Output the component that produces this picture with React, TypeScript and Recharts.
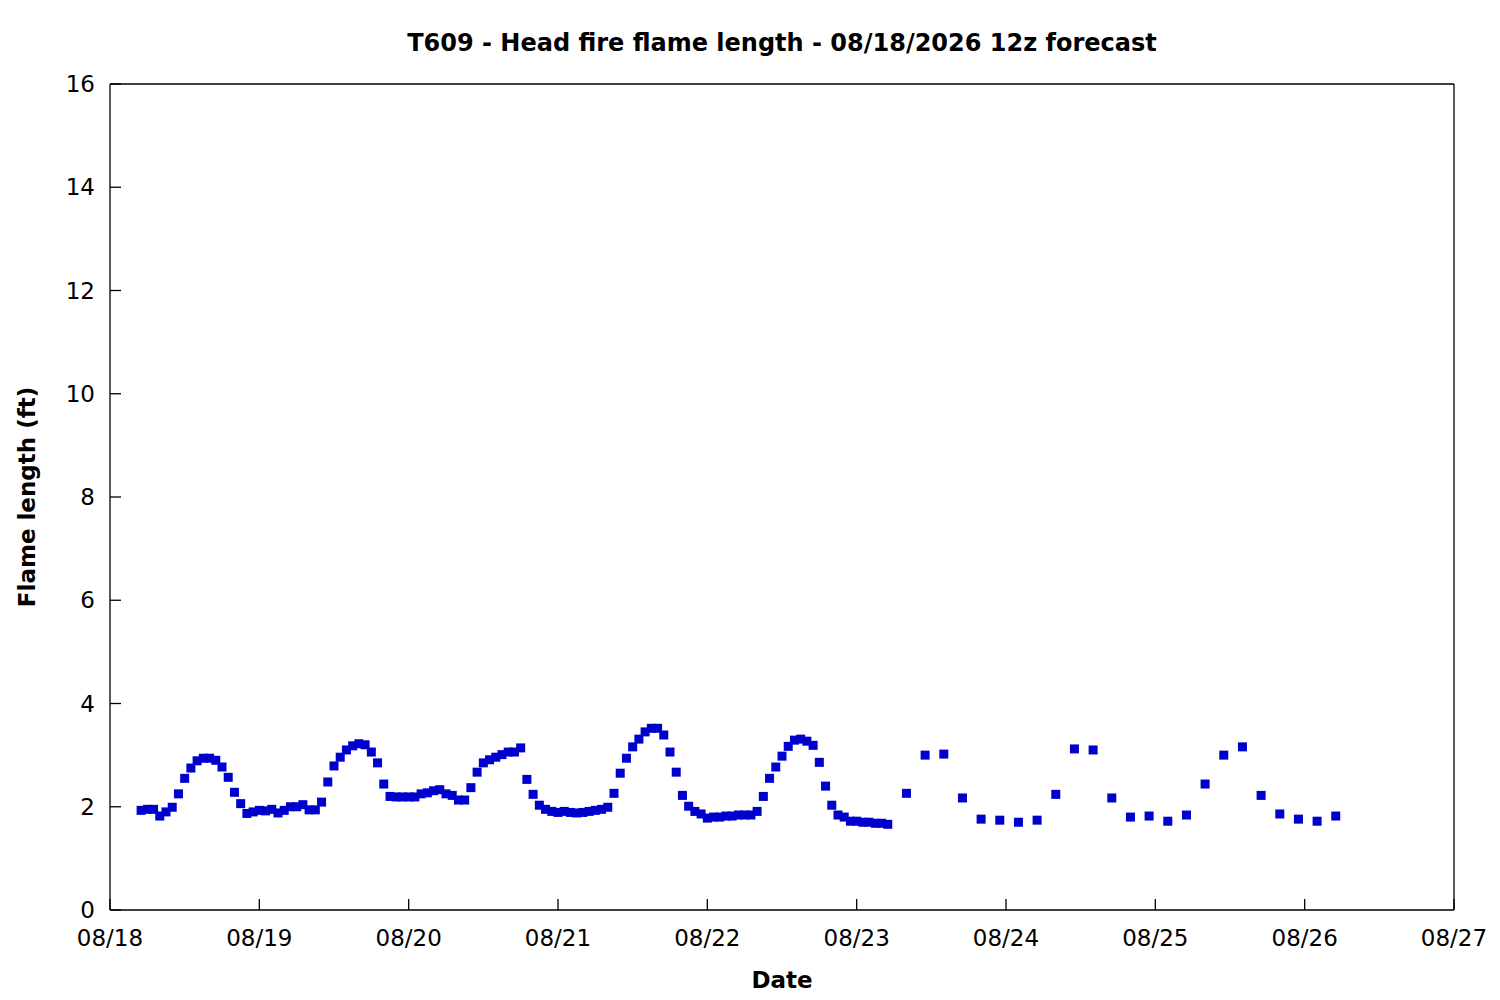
import { ScatterChart, Scatter, XAxis, YAxis, Label } from "recharts";

// hourly values from 08/18 05:00 to 08/23 05:00
const HOURLY_START = 5;
const hourlyFlame = [
  1.93, 1.95, 1.95, 1.82, 1.9, 1.99, 2.25, 2.55, 2.75, 2.89, 2.94, 2.94, 2.9, 2.77, 2.57, 2.28, 2.06, 1.87, 1.9,
  1.93, 1.92, 1.95, 1.88, 1.93, 2.0, 2.0, 2.04, 1.94, 1.94, 2.09, 2.48, 2.79, 2.96, 3.1, 3.18, 3.22, 3.2, 3.06,
  2.85, 2.44, 2.2, 2.19, 2.19, 2.19, 2.19, 2.25, 2.27, 2.31, 2.33, 2.25, 2.22, 2.13, 2.13, 2.37, 2.67, 2.85, 2.91,
  2.96, 3.01, 3.06, 3.06, 3.14, 2.53, 2.24, 2.03, 1.95, 1.91, 1.89, 1.91, 1.89, 1.88, 1.89, 1.91, 1.93, 1.95, 1.99,
  2.26, 2.65, 2.94, 3.16, 3.31, 3.45, 3.52, 3.52, 3.39, 3.06, 2.67, 2.22, 2.01, 1.91, 1.86, 1.78, 1.8, 1.8, 1.82,
  1.82, 1.84, 1.84, 1.84, 1.91, 2.2, 2.55, 2.77, 2.98, 3.17, 3.29, 3.31, 3.27, 3.19, 2.86, 2.4, 2.03, 1.84, 1.8,
  1.72, 1.72, 1.7, 1.7, 1.68, 1.68, 1.66,
];

// 3-hourly values from 08/23 08:00 on
const LATER_START = 128;
const LATER_STEP = 3;
const threeHourlyFlame = [
  2.26, 3.0, 3.02, 2.17, 1.76, 1.74, 1.7, 1.74, 2.24, 3.12, 3.1, 2.17, 1.8, 1.82, 1.72, 1.84, 2.44, 3.0, 3.16, 2.22,
  1.86, 1.76, 1.72, 1.82,
];

const dayTicks = [0, 24, 48, 72, 96, 120, 144, 168, 192, 216];
const dayLabels = ["08/18", "08/19", "08/20", "08/21", "08/22", "08/23", "08/24", "08/25", "08/26", "08/27"];
const flameTicks = [0, 2, 4, 6, 8, 10, 12, 14, 16];

const points = [
  ...hourlyFlame.map((v, i) => ({ hour: HOURLY_START + i, flame: v })),
  ...threeHourlyFlame.map((v, i) => ({ hour: LATER_START + i * LATER_STEP, flame: v })),
];

const font = "'DejaVu Sans', sans-serif";
const line = { stroke: "#000", strokeWidth: 1.3 };
const tickText = { fill: "#000", fontSize: 23, fontFamily: font };

const Square = (props: any) => {
  const { cx, cy } = props;
  if (cx == null || cy == null) return null;
  return <rect x={cx - 4.5} y={cy - 4.5} width={9} height={9} fill="#0000CC" />;
};

export default function App() {
  return (
    <div style={{ position: "absolute", left: 0, top: 0, width: 1500, height: 1000, background: "#fff" }}>
      <div
        style={{
          position: "absolute",
          left: 110,
          width: 1344,
          top: 31,
          textAlign: "center",
          fontFamily: font,
          fontWeight: "bold",
          fontSize: 24,
          lineHeight: 1,
          color: "#000",
        }}
      >
        T609 - Head fire flame length - 08/18/2026 12z forecast
      </div>
      <ScatterChart width={1500} height={1000} margin={{ top: 54, right: 0, bottom: 0, left: 0 }}>
        <XAxis
          xAxisId="bottom"
          type="number"
          dataKey="hour"
          domain={[0, 216]}
          ticks={dayTicks}
          interval={0}
          allowDataOverflow
          tickFormatter={(h: number) => dayLabels[h / 24]}
          height={90}
          tickSize={-11}
          tickMargin={31}
          axisLine={line}
          tickLine={line}
          tick={tickText}
        >
          <Label
            value="Date"
            position="insideBottom"
            offset={12}
            style={{ fill: "#000", fontSize: 23, fontWeight: "bold", fontFamily: font }}
          />
        </XAxis>
        <XAxis
          xAxisId="top"
          orientation="top"
          type="number"
          dataKey="hour"
          domain={[0, 216]}
          ticks={dayTicks}
          interval={0}
          allowDataOverflow
          height={30}
          tickSize={-11}
          axisLine={line}
          tickLine={line}
          tick={false}
        />
        <YAxis
          yAxisId="left"
          type="number"
          dataKey="flame"
          domain={[0, 16]}
          ticks={flameTicks}
          interval={0}
          allowDataOverflow
          width={110}
          tickSize={-11}
          tickMargin={26}
          axisLine={line}
          tickLine={line}
          tick={tickText}
        >
          <Label
            value="Flame length (ft)"
            position="insideLeft"
            angle={-90}
            offset={27}
            style={{ fill: "#000", fontSize: 23, fontWeight: "bold", fontFamily: font, textAnchor: "middle" }}
          />
        </YAxis>
        <YAxis
          yAxisId="right"
          orientation="right"
          type="number"
          dataKey="flame"
          domain={[0, 16]}
          ticks={flameTicks}
          interval={0}
          allowDataOverflow
          width={46}
          tickSize={-11}
          axisLine={line}
          tickLine={line}
          tick={false}
        />
        <Scatter
          data={points}
          xAxisId="bottom"
          yAxisId="left"
          shape={Square}
          isAnimationActive={false}
        />
      </ScatterChart>
    </div>
  );
}
